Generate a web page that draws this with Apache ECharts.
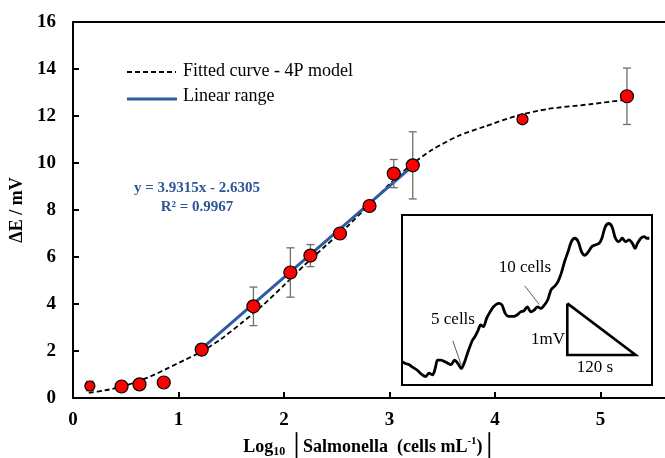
<!DOCTYPE html>
<html><head><meta charset="utf-8">
<script src="https://cdn.jsdelivr.net/npm/echarts@6/dist/echarts.min.js"></script>
<style>html,body{margin:0;padding:0;background:#fff}#c{width:665px;height:458px}</style>
</head><body><div id="c"></div>
<script>
// Main calibration data
const logConc = [0.16, 0.46, 0.63, 0.86, 1.22, 1.71, 2.06, 2.25, 2.53, 2.81, 3.04, 3.22, 4.26, 5.25];
const deltaE  = [0.51, 0.49, 0.58, 0.66, 2.06, 3.90, 5.34, 6.06, 7.00, 8.17, 9.55, 9.90, 11.86, 12.84];
const errE    = [0.2, 0, 0, 0, 0.25, 0.82, 1.05, 0.47, 0, 0, 0.6, 1.43, 0, 1.2];
// Fitted 4P curve
const fitX = [0.15, 0.3, 0.45, 0.6, 0.75, 0.9, 1.05, 1.22, 1.4, 1.6, 1.8, 2.0, 2.2, 2.4, 2.6, 2.8, 3.0, 3.2, 3.4, 3.65, 3.9, 4.2, 4.5, 4.9, 5.25];
const fitY = [0.22, 0.32, 0.47, 0.68, 0.95, 1.27, 1.6, 1.98, 2.5, 3.2, 3.95, 4.8, 5.68, 6.5, 7.3, 8.2, 9.1, 9.9, 10.55, 11.15, 11.55, 12.0, 12.3, 12.5, 12.7];
// Linear range
const linX = [1.22, 3.22];
const linY = [2.1, 9.88];
// Inset trace (time s, potential mV)
const insetT = [0,5.8,11.6,17.4,26.1,34.8,40.6,46.4,52.2,56.8,60.9,66.7,75.4,84.1,89.9,95.7,101.5,107.3,113.1,120.6,124.7,130.5,134.6,139.2,145.0,150.8,156.6,165.3,171.1,176.9,182.7,191.4,197.2,203.0,208.8,211.7,214.6,220.4,226.2,232.0,237.8,243.6,249.4,255.2,261.0,266.8,272.6,278.4,284.2,290.0,295.8,301.6,307.4,313.2,319.0,324.8,330.6,337.6,342.2,348.0,353.8,359.6,365.4,371.2,377.0,382.8,388.6,394.4,399.0,403.1,408.9,414.7,418.8,423.4];
const insetMV = [0.41,0.38,0.36,0.32,0.26,0.18,0.15,0.21,0.18,0.29,0.44,0.44,0.40,0.36,0.44,0.38,0.29,0.41,0.59,0.79,0.85,0.97,1.06,1.03,1.18,1.29,1.38,1.44,1.41,1.26,1.21,1.21,1.24,1.29,1.31,1.35,1.38,1.29,1.32,1.38,1.35,1.41,1.50,1.68,1.74,1.82,1.97,2.18,2.35,2.53,2.59,2.53,2.35,2.29,2.35,2.44,2.47,2.50,2.59,2.79,2.85,2.79,2.59,2.53,2.59,2.53,2.56,2.50,2.41,2.50,2.59,2.62,2.59,2.59];
const triT = [283, 283, 400, 283];
const triV = [1.44, 0.53, 0.53, 1.44];
const ptr5T = [87, 101.5], ptr5V = [0.78, 0.35];
const ptr10T = [210, 235], ptr10V = [1.75, 1.42];
const xTicks = ['0','1','2','3','4','5'];

const zip = (a, b) => a.map((v, i) => [v, b[i]]);
const SERIF = 'Liberation Serif';

const chart = echarts.init(document.getElementById('c'), null, {renderer: 'canvas'});
const option = {
  animation: false,
  backgroundColor: '#fff',
  grid: [
    {left: 73, top: 22, width: 593, height: 376, containLabel: false, outerBoundsMode: 'none'},
    {left: 402, top: 215, width: 250, height: 170, show: true, backgroundColor: '#fff', borderColor: '#000', borderWidth: 2, z: 5, containLabel: false, outerBoundsMode: 'none'}
  ],
  xAxis: [
    {gridIndex: 0, type: 'value', min: 0, max: 5.62, interval: 1, position: 'bottom',
     axisLine: {show: true, onZero: false, lineStyle: {color: '#000', width: 2}},
     axisTick: {show: true, inside: true, length: 6, lineStyle: {color: '#000', width: 2}},
     splitLine: {show: false},
     axisLabel: {showMaxLabel: false, margin: 13, color: '#000', fontFamily: SERIF, fontWeight: 'bold', fontSize: 19,
       formatter: v => (Number.isInteger(v) && v <= 5) ? xTicks[v] : ''},
     name: '{a|Log}{sub|10}{a| }{bar|│}{a|Salmonella  (cells mL}{sup|-1}{a|)}{bar|│}',
     nameLocation: 'middle', nameGap: 38,
     nameTextStyle: {rich: {
       a: {fontFamily: SERIF, fontWeight: 'bold', fontSize: 18, color: '#000'},
       sub: {fontFamily: SERIF, fontWeight: 'bold', fontSize: 12, color: '#000', verticalAlign: 'bottom', padding: [8,0,0,0]},
       sup: {fontFamily: SERIF, fontWeight: 'bold', fontSize: 11, color: '#000', verticalAlign: 'top', padding: [0,0,8,0]},
       bar: {fontFamily: 'DejaVu Sans', fontSize: 22, color: '#000'}
     }}},
    {gridIndex: 0, type: 'value', min: 0, max: 5.62, position: 'top',
     axisLine: {show: true, onZero: false, lineStyle: {color: '#000', width: 2}},
     axisTick: {show: false}, axisLabel: {show: false}, splitLine: {show: false}},
    {gridIndex: 1, type: 'value', min: 0, max: 428, interval: 120,
     axisLine: {show: false}, axisTick: {show: true, inside: true, length: 5, lineStyle: {color: '#000', width: 1.5}},
     axisLabel: {show: false}, splitLine: {show: false}}
  ],
  yAxis: [
    {gridIndex: 0, type: 'value', min: 0, max: 16, interval: 2,
     axisLine: {show: true, onZero: false, lineStyle: {color: '#000', width: 2}},
     axisTick: {show: true, inside: true, length: 6, lineStyle: {color: '#000', width: 2}},
     splitLine: {show: false},
     axisLabel: {margin: 17, color: '#000', fontFamily: SERIF, fontWeight: 'bold', fontSize: 19},
     name: 'ΔE / mV', nameLocation: 'middle', nameGap: 37,
     nameTextStyle: {fontFamily: SERIF, fontWeight: 'bold', fontSize: 18, color: '#000'}},
    {gridIndex: 1, type: 'value', min: 0, max: 3, interval: 1,
     axisLine: {show: false}, axisTick: {show: true, inside: true, length: 5, lineStyle: {color: '#000', width: 1.5}},
     axisLabel: {show: false}, splitLine: {show: false}}
  ],
  series: [
    {type: 'line', xAxisIndex: 0, yAxisIndex: 0, data: zip(fitX, fitY), smooth: 0.25, symbol: 'none',
     lineStyle: {color: '#000', width: 1.8, type: [5, 3]}, z: 2},
    {type: 'line', xAxisIndex: 0, yAxisIndex: 0, data: zip(linX, linY), symbol: 'none',
     lineStyle: {color: '#2f5ba3', width: 3}, z: 3},
    {type: 'custom', xAxisIndex: 0, yAxisIndex: 0, z: 4,
     data: logConc.map((x, i) => [x, deltaE[i] - errE[i], deltaE[i] + errE[i], errE[i]]).filter(d => d[3] > 0),
     renderItem: (params, api) => {
       const lo = api.coord([api.value(0), api.value(1)]);
       const hi = api.coord([api.value(0), api.value(2)]);
       const w = 4;
       const st = {stroke: '#6e6e6e', lineWidth: 1.3};
       return {type: 'group', children: [
         {type: 'line', shape: {x1: lo[0], y1: lo[1], x2: hi[0], y2: hi[1]}, style: st},
         {type: 'line', shape: {x1: lo[0]-w, y1: lo[1], x2: lo[0]+w, y2: lo[1]}, style: st},
         {type: 'line', shape: {x1: hi[0]-w, y1: hi[1], x2: hi[0]+w, y2: hi[1]}, style: st}
       ]};
     }},
    {type: 'scatter', xAxisIndex: 0, yAxisIndex: 0, data: zip(logConc, deltaE), z: 6,
     symbolSize: (v, p) => (p.dataIndex === 0 ? 10 : (p.dataIndex === 12 ? 11 : 13)),
     itemStyle: {color: '#ff0000', borderColor: '#000', borderWidth: 1.2, opacity: 1}},
    {type: 'line', xAxisIndex: 2, yAxisIndex: 1, data: zip(insetT, insetMV), smooth: 0.3, symbol: 'none',
     lineStyle: {color: '#000', width: 2.8}, z: 10},
    {type: 'line', xAxisIndex: 2, yAxisIndex: 1, data: zip(triT, triV), symbol: 'none',
     lineStyle: {color: '#000', width: 2.6, join: 'miter'}, z: 10},
    {type: 'line', xAxisIndex: 2, yAxisIndex: 1, data: zip(ptr5T, ptr5V), symbol: 'none',
     lineStyle: {color: '#333', width: 0.8}, z: 10},
    {type: 'line', xAxisIndex: 2, yAxisIndex: 1, data: zip(ptr10T, ptr10V), symbol: 'none',
     lineStyle: {color: '#333', width: 0.8}, z: 10}
  ],
  graphic: [
    {type: 'line', shape: {x1: 127, y1: 72, x2: 176, y2: 72}, style: {stroke: '#000', lineWidth: 1.8, lineDash: [5, 3]}, z: 20},
    {type: 'text', left: 183, top: 62, style: {text: 'Fitted curve - 4P model', font: '18px "Liberation Serif"', fill: '#000'}, z: 20},
    {type: 'line', shape: {x1: 127, y1: 99, x2: 177, y2: 99}, style: {stroke: '#2f5ba3', lineWidth: 3}, z: 20},
    {type: 'text', left: 183, top: 87, style: {text: 'Linear range', font: '18px "Liberation Serif"', fill: '#000'}, z: 20},
    {type: 'text', x: 197, y: 188, style: {text: 'y = 3.9315x - 2.6305', font: 'bold 15px "Liberation Serif"', fill: '#2f5597', align: 'center', verticalAlign: 'middle'}, z: 20},
    {type: 'text', x: 197, y: 207, style: {text: 'R² = 0.9967', font: 'bold 15px "Liberation Serif"', fill: '#2f5597', align: 'center', verticalAlign: 'middle'}, z: 20},
    {type: 'text', x: 453, y: 320, style: {text: '5 cells', font: '17px "Liberation Serif"', fill: '#000', align: 'center', verticalAlign: 'middle'}, z: 20},
    {type: 'text', x: 525, y: 268, style: {text: '10 cells', font: '17px "Liberation Serif"', fill: '#000', align: 'center', verticalAlign: 'middle'}, z: 20},
    {type: 'text', x: 565, y: 340, style: {text: '1mV', font: '17px "Liberation Serif"', fill: '#000', align: 'right', verticalAlign: 'middle'}, z: 20},
    {type: 'text', x: 595, y: 368, style: {text: '120 s', font: '17px "Liberation Serif"', fill: '#000', align: 'center', verticalAlign: 'middle'}, z: 20}
  ]
};
chart.setOption(option);
</script>
</body></html>
